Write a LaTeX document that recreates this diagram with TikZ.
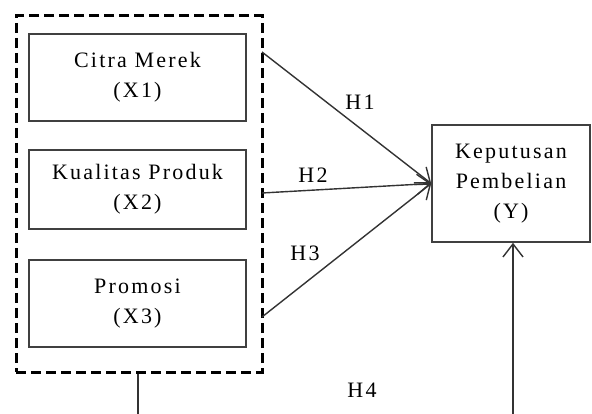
\documentclass[tikz,border=0pt]{standalone}
\usepackage{fontspec}
\setmainfont{Liberation Serif}
\newfontfamily\lsfont[LetterSpace=10]{Liberation Serif}
\usetikzlibrary{arrows.meta}
\begin{document}
\begin{tikzpicture}[x=1pt,y=-1pt,
  txt/.style={font=\lsfont\fontsize{22}{30}\selectfont, text=black, align=center, inner sep=0pt},
  varbox/.style={txt, draw=black!75, line width=1.6pt, rectangle},
  grpbox/.style={draw=black, line width=3pt, dash pattern=on 10pt off 5pt},
  conn/.style={draw=black!80, line width=1.4pt},
  arr/.style={conn, -{Straight Barb[length=13pt,width=20pt,line width=1.4pt]}},
  hlab/.style={txt}
]
\useasboundingbox (0,0) rectangle (592,414);
\node[varbox, minimum width=217pt, minimum height=87pt, yshift=-1pt] (x1) at (137.5,76.5) {Citra Merek\\(X1)};
\node[varbox, minimum width=217pt, minimum height=79pt] (x2) at (137.5,189.5) {Kualitas Produk\\(X2)};
\node[varbox, minimum width=217pt, minimum height=87pt] (x3) at (137.5,303.5) {Promosi\\(X3)};
\node[grpbox, rectangle, minimum width=246pt, minimum height=356pt, inner sep=0pt] (grp) at (139,194) {};
\node[varbox, minimum width=158pt, minimum height=117pt] (y) at (511,183.5) {Keputusan\\Pembelian\\(Y)};
\coordinate (s1) at (262,52);
\coordinate (s2) at (262,193);
\coordinate (s3) at (262,317);
\coordinate (b1) at (138,414);
\coordinate (b2) at (513,414);
\draw[arr] (s1) -- (y.west);
\draw[arr] (s2) -- (y.west);
\draw[arr] (s3) -- (y.west);
\draw[conn] (grp.south -| b1) -- (b1);
\draw[arr] (b2) -- (y.south -| b2);
\node[hlab] (h1) at (360,102) {H1};
\node[hlab] (h2) at (313,175) {H2};
\node[hlab] (h3) at (305,253) {H3};
\node[hlab] (h4) at (362,390) {H4};
\end{tikzpicture}
\end{document}
